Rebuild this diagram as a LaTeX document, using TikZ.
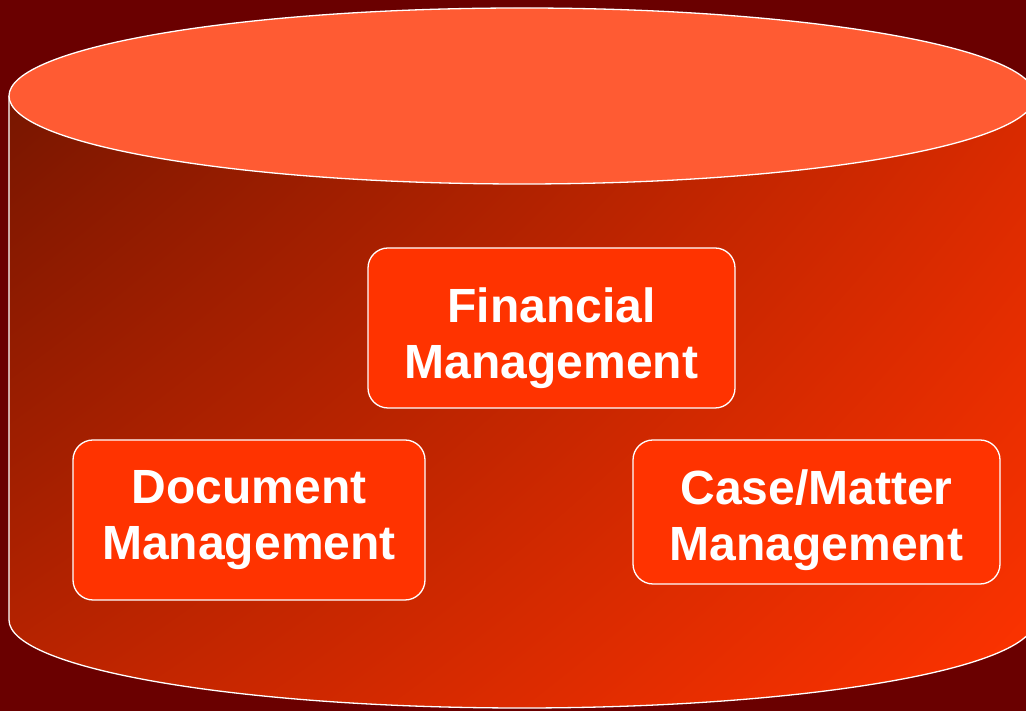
\documentclass[tikz,border=0pt]{standalone}
\usepackage{fontspec}
\setmainfont{Liberation Sans}
\usetikzlibrary{shadings}
\definecolor{bgred}{HTML}{6A0000}
\definecolor{topface}{HTML}{FF5B33}
\definecolor{boxred}{HTML}{FF3300}
\definecolor{ulc}{HTML}{781600}
\definecolor{urc}{HTML}{D82A00}
\definecolor{llc}{HTML}{BC2400}
\definecolor{lrc}{HTML}{FF3300}
\tikzset{
  x=1pt,y=1pt,
  box/.style={draw=white, line width=1.3pt, fill=boxred, rounded corners=20pt, inner sep=0pt},
  lbl/.style={text=white, font=\fontsize{48}{56}\selectfont\bfseries, align=center, inner sep=0pt},
  rim/.style={draw=white, line width=1.3pt}
}
\begin{document}
\begin{tikzpicture}
\useasboundingbox (0,0) rectangle (1026,711);
\fill[bgred] (0,0) rectangle (1026,711);
\begin{scope}
\clip (0,0) rectangle (1026,711);
% body
\shade[upper left=ulc, upper right=urc, lower left=llc, lower right=lrc]
  (9,615) -- (9,91) arc[start angle=180, end angle=360, x radius=513, y radius=88] -- (1035,615) -- cycle;
\draw[rim] (9,615) -- (9,91) arc[start angle=180, end angle=360, x radius=513, y radius=88] -- (1035,615);
% top
\draw[rim, fill=topface] (522,615) ellipse[x radius=513, y radius=88];
\end{scope}
% boxes
\node[box, minimum width=367, minimum height=160] (fin) at (551.5,383) {};
\node[box, minimum width=352, minimum height=160] (doc) at (249,191) {};
\node[box, minimum width=367, minimum height=144] (cas) at (816.5,199) {};
\node[lbl] (finl) at (551.5,373) {Financial\\Management};
\node[lbl] (docl) at (249,191) {Document\\Management};
\node[lbl] (casl) at (816.5,191) {Case/Matter\\Management};
\end{tikzpicture}
\end{document}
